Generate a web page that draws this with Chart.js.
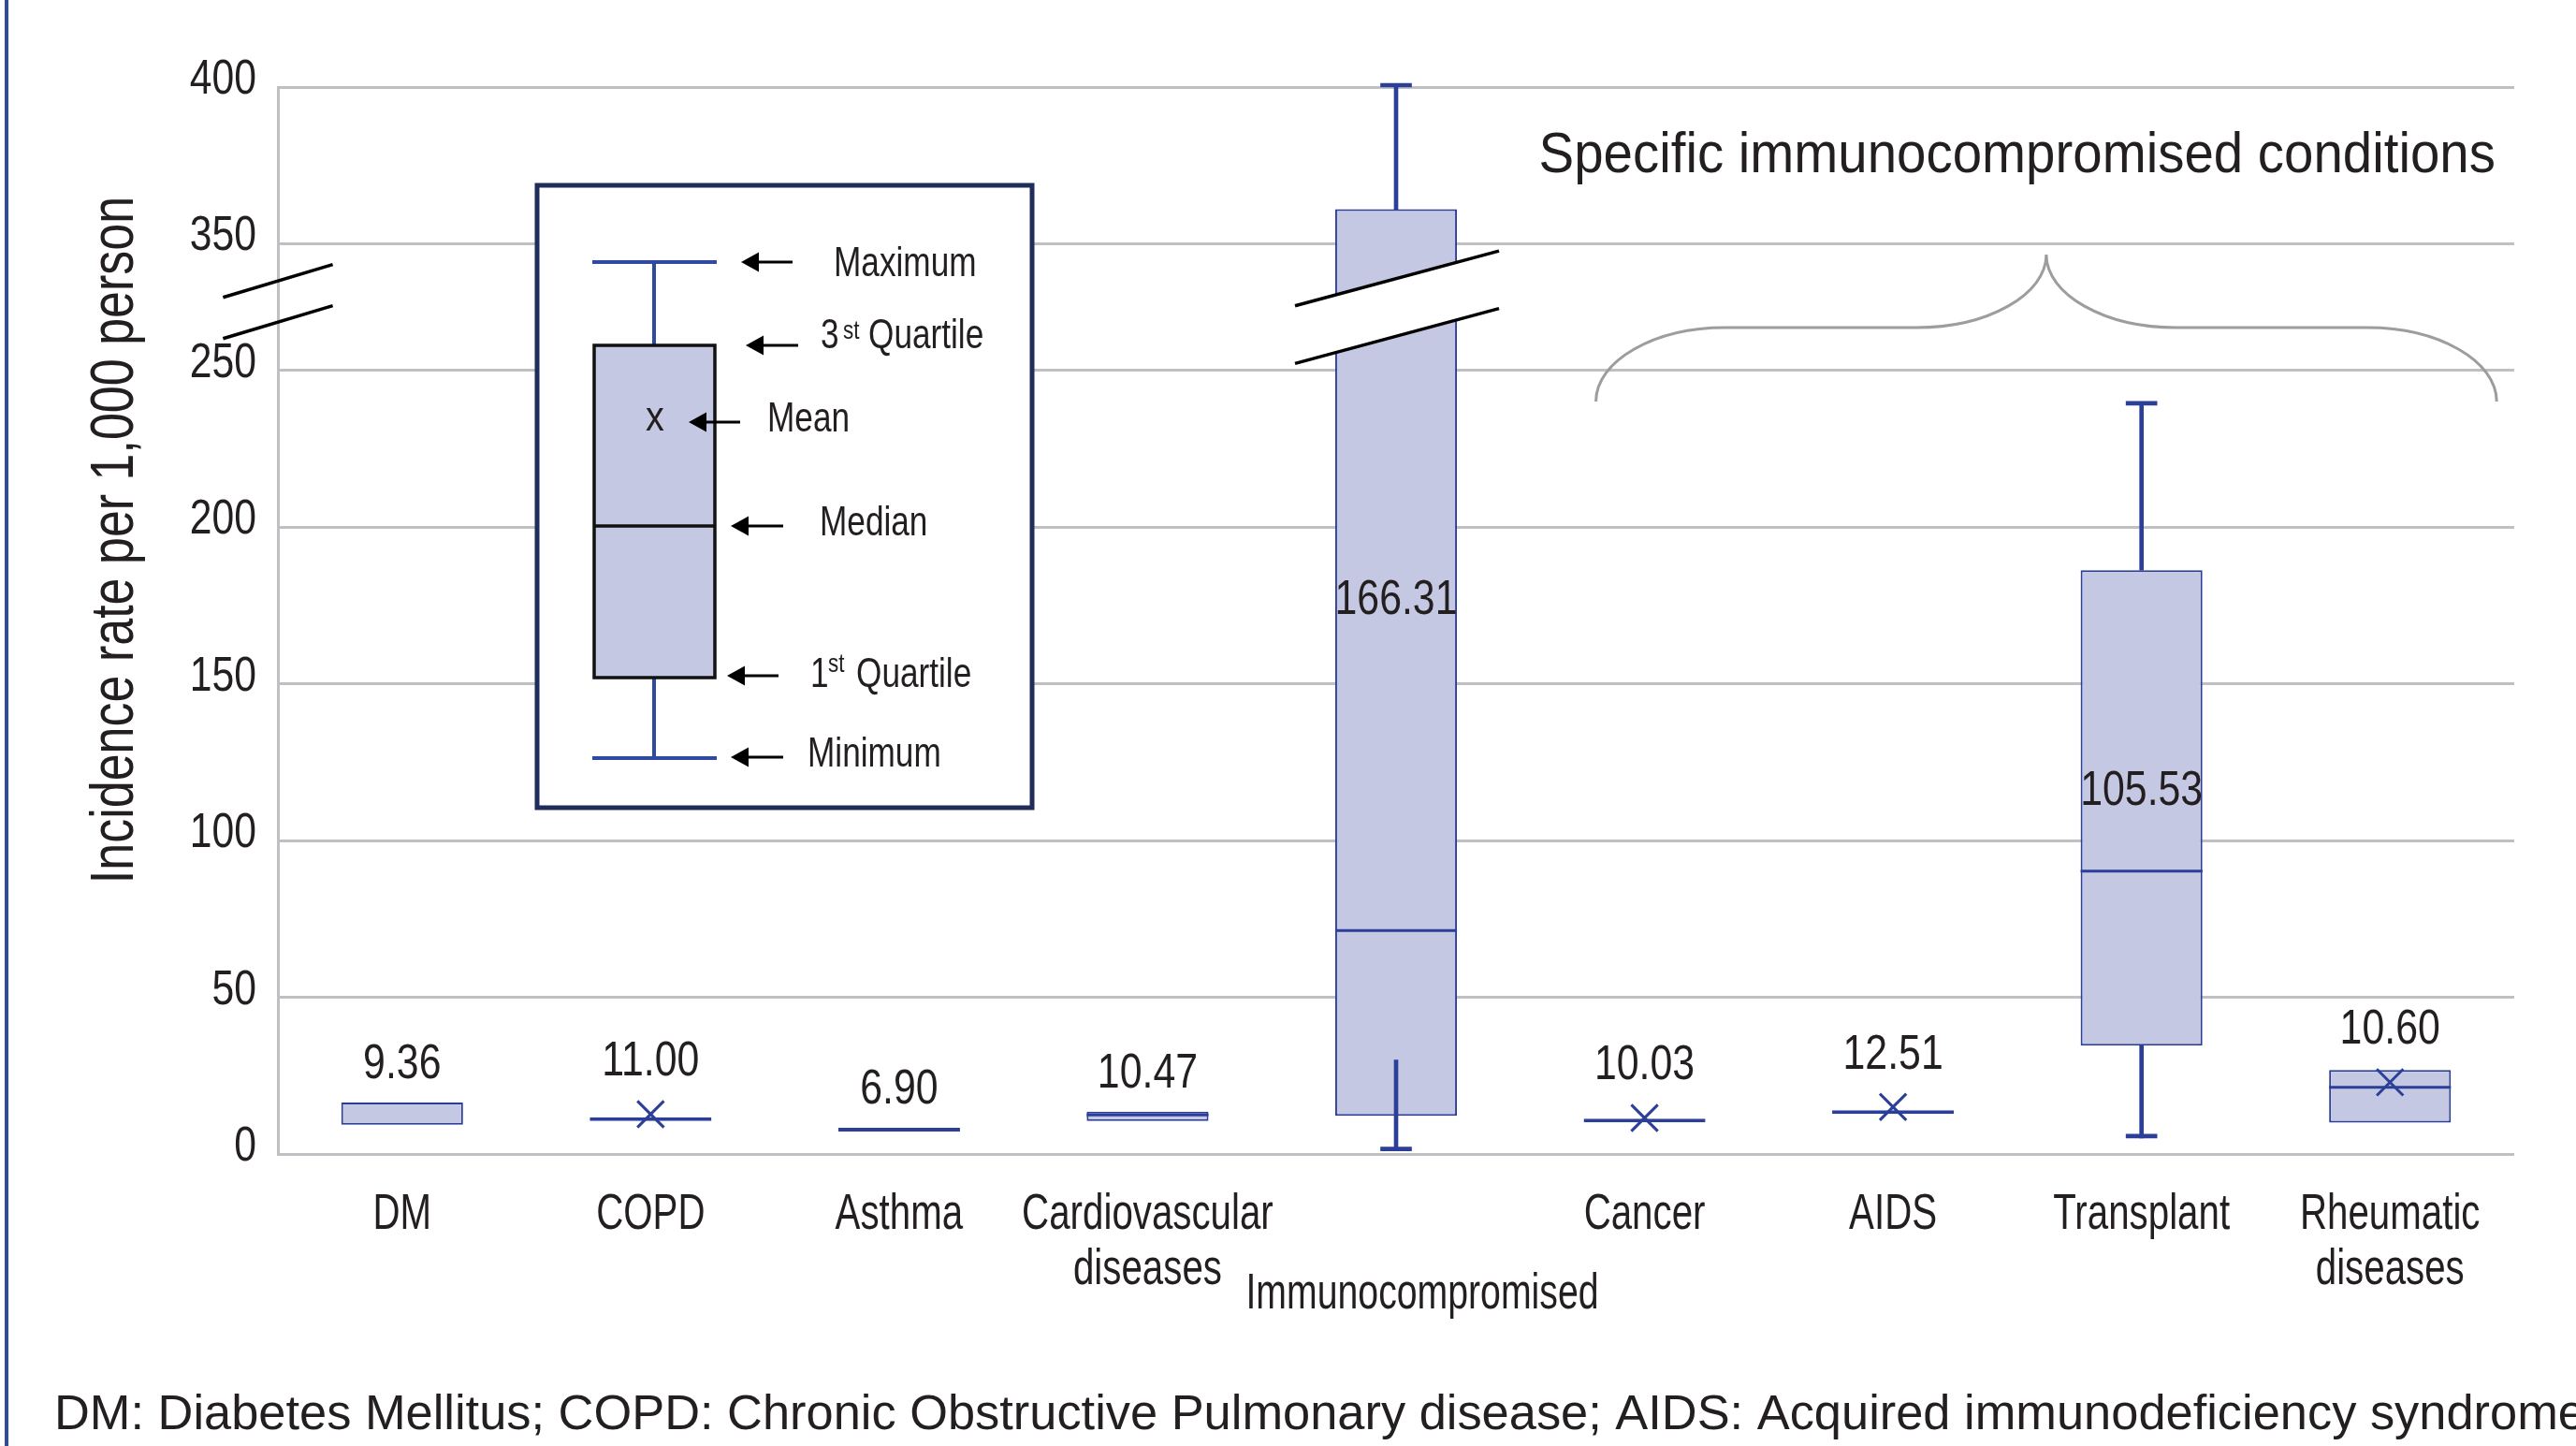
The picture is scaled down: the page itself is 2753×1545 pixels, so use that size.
<!DOCTYPE html>
<html><head><meta charset="utf-8">
<script src="https://cdn.jsdelivr.net/npm/chart.js@4/dist/chart.umd.min.js"></script>
<style>html,body{margin:0;padding:0;background:#fff;}canvas{display:block;}</style>
</head><body>
<canvas id="c" width="2753" height="1545"></canvas>
<script>
// ---------------- data ----------------
const categories = ['DM','COPD','Asthma','Cardiovascular diseases','Immunocompromised','Cancer','AIDS','Transplant','Rheumatic diseases'];
const tickLabelLines = [['DM'],['COPD'],['Asthma'],['Cardiovascular','diseases'],[],['Cancer'],['AIDS'],['Transplant'],['Rheumatic','diseases']];
const q1           = [9.3, 10.5, 7.2, 10.5, 12.2, 10.1, 12.8, 34.6, 10.0];
const q3           = [16.4, 10.5, 7.2, 13.5, 361, 10.1, 12.8, 186.3, 26.8];
const median       = [null, null, null, 12.0, 70.9, null, null, 89.8, 20.8];
const whiskerMin   = [null, null, null, null, 1.0, null, null, 5.1, null];
const whiskerLowTop= [null, null, null, null, 30, null, null, 34.6, null];
const whiskerMax   = [null, null, null, null, 400, null, null, 239, null];
const meanMarker   = [null, 12.7, null, null, null, 11.5, 15.0, null, 22.9];
const meanValues   = [9.36, 11.00, 6.90, 10.47, 166.31, 10.03, 12.51, 105.53, 10.60];
const yTickValues  = [0, 50, 100, 150, 200, 250, 350, 400];
const yTickLabels  = ['0','50','100','150','200','250','350','400'];
const yTitle = 'Incidence rate per 1,000 person';
const groupTitle = 'Specific immunocompromised conditions';
const footnote = 'DM: Diabetes Mellitus; COPD: Chronic Obstructive Pulmonary disease; AIDS: Acquired immunodeficiency syndrome';
const insetLabels = {max:'Maximum', q3:'Quartile', mean:'Mean', median:'Median', q1:'Quartile', min:'Minimum'};

// ---------------- broken axis mapping ----------------
const BREAK_LO = 250, BREAK_HI = 350, BREAK_SPAN = 40.5;
function toDisp(v){
  if (v == null) return null;
  if (v <= BREAK_LO) return v;
  if (v >= BREAK_HI) return v - (BREAK_HI - BREAK_LO) + BREAK_SPAN;
  return BREAK_LO + (v - BREAK_LO) * BREAK_SPAN / (BREAK_HI - BREAK_LO);
}
const pair = (a, b) => a.map((v, i) => (v == null || b[i] == null) ? null : [toDisp(v), toDisp(b[i])]);
const flat = a => a.map(v => v == null ? null : [toDisp(v), toDisp(v)]);

// ---------------- styles ----------------
const FONT = '"Liberation Sans", Arial, sans-serif';
const INK = '#231f20', BLUE = '#2c3f98', FILL = '#c5c8e3', GRID = '#bfc0c3';

// condensed text: regular face squeezed horizontally
function ctext(ctx, text, x, y, size, sx, align = 'center', baseline = 'alphabetic'){
  ctx.save();
  ctx.translate(x, y); ctx.scale(sx, 1);
  ctx.font = `${size}px ${FONT}`; ctx.fillStyle = INK;
  ctx.textAlign = align; ctx.textBaseline = baseline;
  ctx.fillText(text, 0, 0);
  ctx.restore();
}

const overlay = {
  id: 'overlay',
  afterDraw(chart){
    const ctx = chart.ctx, xs = chart.scales.x, ys = chart.scales.y, ca = chart.chartArea;
    const px = i => xs.getPixelForValue(i);
    const py = v => ys.getPixelForValue(toDisp(v));
    ctx.save();
    // page border
    ctx.fillStyle = '#2d4b9f'; ctx.fillRect(5, 0, 4, chart.height);

    // y tick labels
    ys.ticks.forEach((t, i) => {
      ctext(ctx, yTickLabels[i], ca.left - 23, ys.getPixelForValue(t.value) + 7, 52, 0.82, 'right');
    });
    // x tick labels
    tickLabelLines.forEach((lines, i) => {
      lines.forEach((ln, k) => ctext(ctx, ln, px(i), ca.bottom + 80 + k * 58.7, 53, 0.76));
    });
    ctext(ctx, categories[4], px(4) + 28, ca.bottom + 165, 53, 0.74);

    // y title
    ctx.save();
    ctx.translate(ca.left - 173, (ca.top + ca.bottom) / 2 - 86);
    ctx.rotate(-Math.PI / 2);
    ctext(ctx, yTitle, 0, 0, 65, 0.80, 'center', 'middle');
    ctx.restore();

    // axis break zone
    const zc = (py(BREAK_HI) + py(BREAK_LO)) / 2;
    ctx.strokeStyle = '#000'; ctx.lineWidth = 3.5; ctx.lineCap = 'butt';
    [-22, 22].forEach(d => {
      const cx = ca.left, cy = zc - 6 + d, h = 58.6, s = 0.3;
      ctx.beginPath(); ctx.moveTo(cx - h, cy + h * s); ctx.lineTo(cx + h, cy - h * s); ctx.stroke();
    });
    {
      const cx = px(4) + 1, h = 109, s = 0.269, d = 30.8;
      ctx.fillStyle = '#fff';
      ctx.beginPath();
      ctx.moveTo(cx - h, zc - d + h * s); ctx.lineTo(cx + h, zc - d - h * s);
      ctx.lineTo(cx + h, zc + d - h * s); ctx.lineTo(cx - h, zc + d + h * s);
      ctx.closePath(); ctx.fill();
      [-d, d].forEach(o => { ctx.beginPath(); ctx.moveTo(cx - h, zc + o + h * s); ctx.lineTo(cx + h, zc + o - h * s); ctx.stroke(); });
    }

    // value labels (means)
    categories.forEach((c, i) => {
      const top = py(q3[i]), bot = py(q1[i]);
      let base;
      if (bot - top > 100) base = py(meanValues[i]) - 20;
      else {
        let t = top - (bot - top < 4 ? 4 : 0);
        if (meanMarker[i] != null) t = Math.min(t, py(meanMarker[i]) - 15);
        base = t - 26;
      }
      ctext(ctx, meanValues[i].toFixed(2), px(i), base, 51, 0.84);
    });

    // group brace + title
    const L = px(5) - 52, R = px(8) + 114, P = (L + R) / 2;
    const yb = ca.top + 336, yh = ca.top + 257, yp = ca.top + 179;
    ctx.strokeStyle = '#9d9d9d'; ctx.lineWidth = 3;
    ctx.beginPath();
    ctx.moveTo(L, yb);
    ctx.bezierCurveTo(L, yb - 0.55 * (yb - yh), L + 0.45 * 138, yh, L + 138, yh);
    ctx.lineTo(P - 139, yh);
    ctx.bezierCurveTo(P - 139 + 0.55 * 139, yh, P, yh - 0.45 * (yh - yp), P, yp);
    ctx.bezierCurveTo(P, yh - 0.45 * (yh - yp), P + 139 - 0.55 * 139, yh, P + 139, yh);
    ctx.lineTo(R - 138, yh);
    ctx.bezierCurveTo(R - 0.45 * 138, yh, R, yb - 0.55 * (yb - yh), R, yb);
    ctx.stroke();
    ctext(ctx, groupTitle, L - 61, ca.top + 91, 61, 0.925, 'left');

    // inset legend
    drawInset(ctx);

    // footnote
    ctx.font = `52.4px ${FONT}`; ctx.fillStyle = INK; ctx.textAlign = 'left'; ctx.textBaseline = 'alphabetic';
    ctx.fillText(footnote, 58, 1527);
    ctx.restore();
  }
};

function drawArrow(ctx, tip, tail, y){
  ctx.strokeStyle = '#000'; ctx.fillStyle = '#000'; ctx.lineWidth = 3;
  ctx.beginPath(); ctx.moveTo(tail, y); ctx.lineTo(tip + 14, y); ctx.stroke();
  ctx.beginPath(); ctx.moveTo(tip, y); ctx.lineTo(tip + 19, y - 10.5); ctx.lineTo(tip + 19, y + 10.5); ctx.closePath(); ctx.fill();
}

function drawInset(ctx){
  ctx.save();
  ctx.fillStyle = '#fff'; ctx.fillRect(574, 198, 529, 665);
  ctx.strokeStyle = '#1f2d5a'; ctx.lineWidth = 5; ctx.strokeRect(574, 198, 529, 665);
  ctx.strokeStyle = '#2e4aa3'; ctx.lineWidth = 4;
  ctx.beginPath();
  ctx.moveTo(699, 280); ctx.lineTo(699, 369);
  ctx.moveTo(699, 724); ctx.lineTo(699, 810);
  ctx.moveTo(633, 280); ctx.lineTo(766, 280);
  ctx.moveTo(633, 810); ctx.lineTo(766, 810);
  ctx.stroke();
  ctx.fillStyle = FILL; ctx.fillRect(635, 369, 129, 355);
  ctx.strokeStyle = '#111'; ctx.lineWidth = 3.5; ctx.strokeRect(635, 369, 129, 355);
  ctx.beginPath(); ctx.moveTo(635, 562); ctx.lineTo(764, 562); ctx.stroke();
  ctext(ctx, 'x', 700, 448, 44, 0.9, 'center', 'middle');
  drawArrow(ctx, 792, 847, 280);
  drawArrow(ctx, 797, 853, 369);
  drawArrow(ctx, 736, 791, 451);
  drawArrow(ctx, 781, 837, 562);
  drawArrow(ctx, 777, 832, 722);
  drawArrow(ctx, 781, 837, 809);
  ctext(ctx, insetLabels.max, 891, 295, 44, 0.80, 'left');
  ctext(ctx, '3', 877, 372, 44, 0.80, 'left');
  ctext(ctx, 'st', 901, 362, 28, 0.80, 'left');
  ctext(ctx, insetLabels.q3, 928, 372, 44, 0.80, 'left');
  ctext(ctx, insetLabels.mean, 820, 461, 44, 0.80, 'left');
  ctext(ctx, insetLabels.median, 876, 572, 44, 0.80, 'left');
  ctext(ctx, '1', 866, 734, 44, 0.80, 'left');
  ctext(ctx, 'st', 885, 718, 28, 0.80, 'left');
  ctext(ctx, insetLabels.q1, 915, 734, 44, 0.80, 'left');
  ctext(ctx, insetLabels.min, 863, 819, 44, 0.80, 'left');
  ctx.restore();
}

const common = {grouped: false, categoryPercentage: 1, clip: false};
const chart = new Chart(document.getElementById('c'), {
  type: 'bar',
  data: {
    labels: categories,
    datasets: [
      {label: 'Mean', type: 'line', data: meanMarker.map(toDisp), showLine: false,
        pointStyle: 'crossRot', pointRadius: 20, pointBorderWidth: 3, pointBorderColor: BLUE,
        pointBackgroundColor: BLUE, order: 1, clip: false},
      Object.assign({label: 'Median', data: flat(median), backgroundColor: BLUE, borderWidth: 0,
        barPercentage: 0.49, minBarLength: 3, order: 4}, common),
      Object.assign({label: 'Max cap', data: flat(whiskerMax), backgroundColor: BLUE, borderWidth: 0,
        barThickness: 33, minBarLength: 4, order: 5}, common),
      Object.assign({label: 'Min cap', data: flat(whiskerMin), backgroundColor: BLUE, borderWidth: 0,
        barThickness: 33, minBarLength: 4, order: 5}, common),
      Object.assign({label: 'Upper whisker', data: pair(q3, whiskerMax), backgroundColor: BLUE, borderWidth: 0,
        barThickness: 4, order: 6}, common),
      Object.assign({label: 'Lower whisker', data: pair(whiskerMin, whiskerLowTop), backgroundColor: BLUE, borderWidth: 0,
        barThickness: 4, order: 6}, common),
      Object.assign({label: 'Box', data: pair(q1, q3), backgroundColor: FILL, borderColor: BLUE, borderWidth: 2,
        borderSkipped: false, minBarLength: 4, barPercentage: 0.49, order: 10}, common)
    ]
  },
  options: {
    responsive: false, animation: false, events: [],
    layout: {padding: {top: 93, right: 66, left: 0, bottom: 0}},
    plugins: {legend: {display: false}, tooltip: {enabled: false}},
    scales: {
      x: {
        grid: {display: false}, border: {display: false},
        ticks: {display: false},
        afterFit: s => { s.height = 312; }
      },
      y: {
        min: 0, max: toDisp(400),
        afterBuildTicks: s => { s.ticks = yTickValues.map(v => ({value: toDisp(v)})); },
        grid: {color: GRID, lineWidth: 3, drawTicks: false},
        border: {color: GRID, width: 3},
        ticks: {display: false},
        afterFit: s => { s.width = 297; }
      }
    }
  },
  plugins: [overlay]
});
</script>
</body></html>
